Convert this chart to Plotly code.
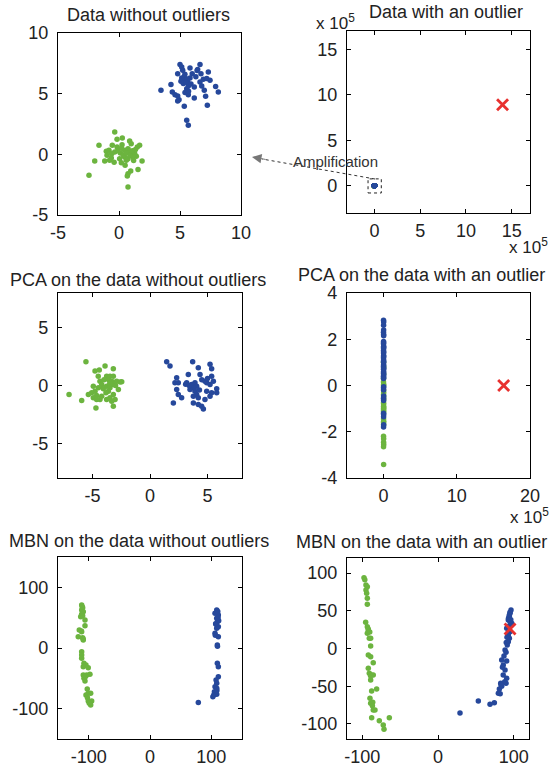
import plotly.graph_objects as go

# ---------------- data ----------------
# Panel 1/2: original data (two clusters)
green_x = [-0.35, -1.64, -0.16, 0.27, 0.87, 1.00, -0.55, -0.16, 0.25, 1.50, 1.69, -1.04, -0.82, -0.35, 0.11,
           0.46, 0.74, 0.87, 1.00, 1.28, 1.42, 1.15, -0.63, -0.77, -1.17, -1.99, 0.05, 0.19, 0.46, 0.60,
           0.74, 1.89, 1.56, 0.96, 0.74, 0.68, -2.46, 0.74, -0.98, -0.40, 0.35, 0.60, 0.90, 1.10, -0.10,
           0.50, 1.20, -0.60, 0.20, 1.35]
green_y = [1.84, 0.74, 1.24, 1.35, 1.10, 0.88, 0.74, 0.60, 0.80, 0.60, 0.74, 0.25, 0.33, 0.19, 0.10,
           0.33, 0.47, 0.25, 0.06, 0.06, -0.16, -0.22, -0.30, -0.49, -0.55, -0.55, -0.36, -0.69, -0.22, -0.49,
           -0.36, -0.55, -1.24, -1.37, -1.59, -1.79, -1.73, -2.69, -0.08, -0.65, -0.05, 0.10, -0.10, 0.30, 0.30,
           -0.90, -0.50, 0.05, 0.50, 0.40]
blue_x = [5.00, 5.14, 6.64, 5.82, 6.45, 5.22, 4.81, 6.00, 6.72, 7.32, 5.14, 5.35, 5.08, 5.47, 5.27,
          5.63, 5.82, 6.64, 6.91, 7.19, 7.46, 4.26, 3.44, 5.68, 5.55, 6.17, 6.78, 7.92, 8.14, 4.37,
          4.59, 4.81, 5.41, 5.68, 6.99, 7.10, 6.17, 4.92, 4.81, 7.24, 5.35, 5.55, 5.68, 5.60, 5.40,
          6.30, 5.90, 5.70, 6.40, 5.50]
blue_y = [7.40, 7.20, 7.40, 7.12, 7.00, 6.92, 6.65, 6.65, 6.65, 6.79, 6.30, 6.37, 6.02, 6.10, 5.83,
          5.96, 6.30, 5.96, 6.18, 6.24, 6.10, 5.75, 5.28, 5.63, 5.41, 5.55, 5.63, 5.60, 5.14, 5.14,
          4.92, 4.80, 5.09, 4.92, 5.28, 4.78, 4.64, 4.50, 4.39, 4.04, 3.96, 2.80, 2.39, 6.20, 6.60,
          6.40, 5.80, 5.20, 6.90, 5.95]
outlier_x = [1.40e6]
outlier_y = [8.9e5]

# Panel 3: PCA without outliers
pca_g_x = [-5.57, -7.04, -5.94, -4.70, -3.19, -4.78, -4.41, -3.91, -3.19, -3.77, -3.48, -3.19, -3.62, -3.33,
           -2.90, -2.46, -4.35, -4.20, -4.93, -4.49, -4.06, -3.77, -3.48, -3.19, -3.62, -3.83, -5.07, -5.36,
           -4.78, -4.64, -4.20, -2.75, -3.19, -3.48, -3.04, -3.33, -3.77, -4.93, -4.35, -4.64, -3.50, -4.00,
           -3.00, -4.50, -2.60]
pca_g_y = [2.06, -0.78, -1.30, -1.94, -1.80, 1.25, 1.33, 1.68, 1.45, 0.81, 0.81, 0.81, 0.52, 0.37,
           0.37, 0.32, 0.37, 0.09, -0.06, -0.20, -0.29, -0.06, -0.20, 0.09, -0.49, -0.63, -0.63, -0.78,
           -0.49, -0.87, -0.93, -0.35, -0.78, -1.07, -1.22, -1.36, -1.22, -1.07, -1.22, -1.22, 0.20, 0.50,
           0.00, 0.80, 0.30]
pca_b_x = [1.45, 1.74, 3.71, 5.22, 5.36, 4.20, 3.33, 4.35, 5.36, 5.51, 2.32, 2.17, 2.46, 3.19, 3.62,
           3.91, 4.06, 3.77, 3.48, 4.93, 5.22, 4.78, 5.80, 2.32, 2.46, 2.75, 3.91, 4.06, 3.77, 4.20,
           4.93, 5.36, 5.80, 5.22, 4.78, 2.03, 3.77, 4.20, 4.49, 4.64, 3.40, 4.50, 5.00, 3.10, 4.30]
pca_b_y = [2.06, 1.68, 2.06, 1.83, 1.45, 1.54, 0.96, 0.96, 0.81, 0.37, 0.67, 0.23, 0.23, 0.23, 0.09,
           0.23, -0.06, -0.20, -0.35, 0.23, 0.09, 0.37, -0.29, -0.35, -0.78, -1.07, -0.49, -0.78, -0.93, -1.07,
           -0.49, -0.63, -0.63, -0.93, -1.22, -1.51, -1.51, -1.65, -1.80, -2.03, 0.00, 0.50, 0.60, 0.10, -0.40]

# Panel 4: PCA with an outlier
pca_o_g_y = [0.15, 0.05, -0.20, -0.30, -0.40, -0.50, -0.75, -0.80, -0.90, -0.95, -1.00, -1.05, -1.10, -1.15,
             -1.45, -1.55, -1.60, -1.70, -2.20, -2.30, -2.45, -2.55, -2.65, -3.42, 0.30, 0.50, 0.80, 1.00,
             -0.60, 0.00]
pca_o_g_x = [-1500, 800, -600, 1200, -900, 300, -1100, 700, -200, 1000, -700, 500, -1300, 900,
             -400, 1100, -800, 200, -1000, 600, -300, 1300, -500, 400, -1200, 100, 1400, -700,
             800, -100]
pca_o_b_y = [2.82, 2.75, 2.60, 2.40, 2.30, 2.20, 2.15, 1.90, 1.85, 1.80, 1.70, 1.65, 1.60, 1.50, 1.45,
             1.40, 1.30, 1.25, 1.20, 1.10, 1.05, 1.00, 0.90, 0.85, 0.80, 0.75, 0.70, 0.60, 0.55, 0.50,
             0.45, 0.40, 0.35, 0.30, -0.05, -0.10, -0.20, -0.45, -0.55, -0.65, -1.20, -1.25, -1.35, -1.70,
             -1.80]
pca_o_b_x = [-900, 1200, -300, 700, -1400, 400, 1000, -600, 200, -1100, 900, -200, 600, -1300, 1300,
             -500, 100, 800, -1000, 500, -700, 1100, -100, 300, -1200, 1400, -400, 700, -800, 0,
             1000, -1500, 600, -300, 900, -1000, 200, 1200, -600, 400, -900, 800, -200, 1100, -700]
pca_o_out_x = [1.64e6]
pca_o_out_y = [0.0]

# Panel 5: MBN without outliers
mbn_g_x = [-111.4, -109.8, -111.4, -108.8, -111.4, -113.0, -109.8, -106.0, -106.0, -115.3, -111.4, -117.0,
           -109.8, -108.8, -111.4, -111.4, -111.4, -107.7, -104.4, -100.7, -108.8, -108.8, -103.3, -97.9,
           -107.7, -106.0, -102.3, -100.7, -96.7, -104.4, -100.7, -95.1, -96.7, -99.0, -110.5, -112.0,
           -105.0, -109.0, -102.0, -98.5]
mbn_g_y = [70.8, 66.4, 62.6, 59.8, 55.5, 51.6, 53.2, 46.0, 36.7, 29.7, 26.9, 18.6,
           17.0, 13.2, -6.1, -11.5, -17.0, -25.2, -28.0, -32.5, -30.8, -44.5, -44.5, -43.3,
           -50.0, -54.4, -67.5, -74.6, -74.6, -77.4, -87.3, -87.3, -93.9, -91.1, 68.0, 28.0,
           -47.0, 15.0, -82.0, -90.0]
mbn_b_x = [108.8, 106.0, 111.4, 108.8, 109.8, 107.7, 111.4, 108.8, 106.0, 111.4, 109.8, 109.8, 111.4,
           111.4, 107.7, 108.8, 106.0, 108.8, 105.0, 104.0, 108.8, 102.5, 78.8, 110.5, 112.0, 107.0,
           110.0, 106.5, 111.0, 109.0]
mbn_b_y = [62.6, 57.1, 54.4, 48.9, 43.3, 39.0, 35.1, 32.4, 24.2, 18.6, 4.9, -25.2, -30.8,
           -47.3, -52.7, -58.2, -63.7, -66.4, -72.0, -77.4, -76.3, -80.2, -90.0, 60.0, 45.0, 40.0,
           3.0, 21.0, 50.0, -70.0]

# Panel 6: MBN with an outlier
mbn_o_g_x = [-97.6, -96.5, -95.0, -93.2, -95.0, -94.1, -93.2, -93.2, -95.4, -93.2, -91.9, -93.2, -90.6,
             -88.8, -88.8, -91.9, -88.8, -85.4, -91.9, -90.6, -87.5, -85.4, -88.8, -87.5, -80.9, -89.7,
             -88.8, -86.1, -85.4, -83.1, -87.5, -77.4, -72.2, -71.2, -64.2, -92.0, -90.0, -89.0, -86.5]
mbn_o_g_y = [93.9, 91.0, 84.2, 82.0, 77.6, 73.2, 66.6, 58.6, 34.7, 28.9, 24.5, 20.2, 13.5,
             13.5, 3.3, -8.6, -10.9, -18.8, -26.3, -32.9, -35.1, -35.1, -41.8, -56.4, -53.7, -66.0,
             -72.7, -71.4, -81.6, -81.6, -91.8, -95.8, -101.5, -107.2, -91.8, 26.0, 22.0, -36.0, -76.0]
mbn_o_b_x = [96.3, 95.0, 94.1, 92.7, 95.0, 97.2, 94.1, 90.6, 95.0, 92.7, 94.1, 92.7, 91.4, 88.4,
             89.7, 84.0, 90.6, 86.1, 88.4, 90.6, 89.7, 82.7, 80.9, 79.6, 53.2, 68.6, 74.3, 29.0,
             93.0, 95.0, 94.0, 92.0, 91.0, 90.0, 94.0, 96.0, 87.0, 85.0, 86.0, 88.0, 84.0, 82.0, 83.0]
mbn_o_b_y = [51.1, 46.7, 42.2, 37.8, 35.5, 33.4, 28.9, 26.8, 22.3, 17.9, 13.5, 9.0, 4.6, -2.0,
             -5.0, -15.3, -16.6, -21.9, -28.5, -39.5, -46.2, -46.2, -53.7, -59.4, -69.6, -74.0, -71.9, -85.5,
             40.0, 48.0, 30.0, 20.0, 15.0, 8.0, 44.0, 38.0, -10.0, -25.0, -35.0, -44.0, -50.0, -60.0, -48.0]
mbn_o_out_x = [95.0]
mbn_o_out_y = [26.0]

# Titles and ticks
titles = ["Data without outliers", "Data with an outlier",
          "PCA on the data without outliers", "PCA on the data with an outlier",
          "MBN on the data without outliers", "MBN on the data with an outlier"]
p1_ticks = [-5, 0, 5, 10]
p1_ticktext = ["-5", "0", "5", "10"]
p2_tickvals = [0, 5e5, 10e5, 15e5]
p2_ticktext = ["0", "5", "10", "15"]
p3_ticks = [-5, 0, 5]
p3_ticktext = ["-5", "0", "5"]
p4_xtickvals = [0, 10e5, 20e5]
p4_xticktext = ["0", "10", "20"]
p4_yticks = [-4, -2, 0, 2, 4]
p4_yticktext = ["-4", "-2", "0", "2", "4"]
p5_ticks = [-100, 0, 100]
p5_ticktext = ["-100", "0", "100"]
p6_xticks = [-100, 0, 100]
p6_xticktext = ["-100", "0", "100"]
p6_yticks = [-100, -50, 0, 50, 100]
p6_yticktext = ["-100", "-50", "0", "50", "100"]

# ---------------- style ----------------
W, H = 555, 769
GREEN = "#6cb43f"
BLUE = "#26489b"
RED = "#e8312f"
TXT = "#222222"
MS = 5.5
FONT = "Liberation Sans, Arial, sans-serif"


def fx(p):  # page pixel x -> paper fraction
    return p / W


def fy(p):  # page pixel y -> paper fraction
    return 1 - p / H


boxes = [  # (x0, x1, y0, y1) in page pixels
    (58, 241, 33, 215),
    (347, 530, 31, 213),
    (58, 242, 293, 478),
    (347, 530, 293, 478),
    (58, 242, 557, 739),
    (347, 529, 558, 739),
]

fig = go.Figure()


def scat(i, x, y, color, sym="circle"):
    ax = "" if i == 1 else str(i)
    if sym == "circle":
        m = dict(color=color, size=MS, line=dict(width=0))
    else:
        m = dict(color=color, size=11, symbol="x-thin", line=dict(width=2.8, color=color))
    fig.add_trace(go.Scatter(x=x, y=y, mode="markers", marker=m, showlegend=False,
                             xaxis="x" + ax, yaxis="y" + ax, hoverinfo="skip"))


scat(1, green_x, green_y, GREEN)
scat(1, blue_x, blue_y, BLUE)
scat(2, green_x, green_y, GREEN)
scat(2, blue_x, blue_y, BLUE)
scat(2, outlier_x, outlier_y, RED, "x")
scat(3, pca_g_x, pca_g_y, GREEN)
scat(3, pca_b_x, pca_b_y, BLUE)
scat(4, pca_o_g_x, pca_o_g_y, GREEN)
scat(4, pca_o_b_x, pca_o_b_y, BLUE)
scat(4, pca_o_out_x, pca_o_out_y, RED, "x")
scat(5, mbn_g_x, mbn_g_y, GREEN)
scat(5, mbn_b_x, mbn_b_y, BLUE)
scat(6, mbn_o_g_x, mbn_o_g_y, GREEN)
scat(6, mbn_o_b_x, mbn_o_b_y, BLUE)
scat(6, mbn_o_out_x, mbn_o_out_y, RED, "x")

axis_specs = [
    # (xrange, xtickvals, xticktext, yrange, ytickvals, yticktext)
    ([-5, 10], p1_ticks, p1_ticktext, [-5, 10], p1_ticks, p1_ticktext),
    ([-3e5, 17e5], p2_tickvals, p2_ticktext, [-3e5, 17e5], p2_tickvals, p2_ticktext),
    ([-8, 8], p3_ticks, p3_ticktext, [-8, 8], p3_ticks, p3_ticktext),
    ([-5e5, 20e5], p4_xtickvals, p4_xticktext, [-4, 4], p4_yticks, p4_yticktext),
    ([-150, 150], p5_ticks, p5_ticktext, [-150, 150], p5_ticks, p5_ticktext),
    ([-120, 120], p6_xticks, p6_xticktext, [-120, 120], p6_yticks, p6_yticktext),
]

common = dict(showgrid=False, zeroline=False, showline=True, linecolor="black", linewidth=1.2,
              mirror="ticks", ticks="inside", ticklen=4, tickwidth=1, tickcolor="black",
              tickfont=dict(family=FONT, size=18, color=TXT),
              fixedrange=True, automargin=False, tickmode="array")

layout = {}
for i, (box, spec) in enumerate(zip(boxes, axis_specs), start=1):
    x0, x1, y0, y1 = box
    xr, xtv, xtt, yr, ytv, ytt = spec
    k = "" if i == 1 else str(i)
    layout["xaxis" + k] = dict(common, domain=[fx(x0), fx(x1)], range=xr, tickvals=xtv, ticktext=xtt,
                               anchor="y" + k, ticklabelstandoff=1)
    layout["yaxis" + k] = dict(common, domain=[fy(y1), fy(y0)], range=yr, tickvals=ytv,
                               ticktext=ytt, anchor="x" + k, ticklabelstandoff=5)

title_pos = [(148, 15), (446, 12), (138, 280), (421, 275), (139, 541), (421, 542)]
annotations = []
for t, (cx, cy) in zip(titles, title_pos):
    annotations.append(dict(text=t, x=fx(cx), y=fy(cy), xref="paper", yref="paper",
                            showarrow=False, xanchor="center", yanchor="middle",
                            font=dict(family=FONT, size=18, color=TXT)))

# exponent labels
for (rx, cy) in [(357, 22), (550, 246), (551, 516)]:
    annotations.append(dict(text="x 10<sup>5</sup>", x=fx(rx), y=fy(cy), xref="paper", yref="paper",
                            showarrow=False, xanchor="right", yanchor="middle",
                            font=dict(family=FONT, size=17, color=TXT)))

# amplification text and arrowhead
annotations.append(dict(text="Amplification", x=fx(335), y=fy(162), xref="paper", yref="paper",
                        showarrow=False, xanchor="center", yanchor="middle",
                        font=dict(family=FONT, size=15, color="#333333")))
annotations.append(dict(text="", x=fx(252), y=fy(157), xref="paper", yref="paper",
                        showarrow=True, ax=15, ay=2.7, arrowhead=2, arrowsize=1.9, arrowwidth=1,
                        arrowcolor="#777777"))

shapes = [
    dict(type="rect", xref="x2", yref="y2", x0=-0.7e5, x1=0.75e5, y0=-0.8e5, y1=0.75e5,
         line=dict(color="#222222", width=1, dash="dot")),
    dict(type="line", xref="paper", yref="paper", x0=fx(375), y0=fy(179), x1=fx(262), y1=fy(159),
         line=dict(color="#333333", width=1, dash="dot")),
]

fig.update_layout(**layout)
fig.update_layout(width=W, height=H, margin=dict(l=0, r=0, t=0, b=0, pad=0),
                  paper_bgcolor="white", plot_bgcolor="white",
                  annotations=annotations, shapes=shapes, showlegend=False)

fig.write_html("out.html", config={"displayModeBar": False},
               post_script="document.body.style.margin='0';")
